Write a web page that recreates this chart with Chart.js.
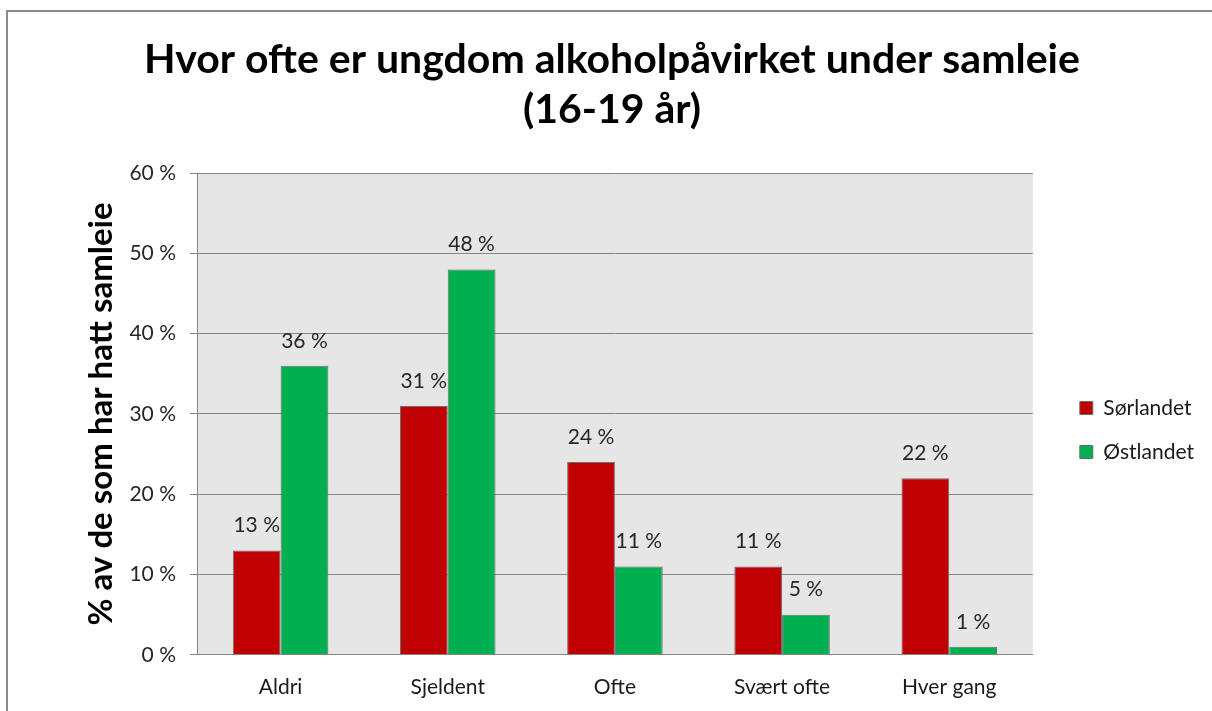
<!DOCTYPE html>
<html>
<head>
<meta charset="utf-8">
<script src="https://cdn.jsdelivr.net/npm/chart.js@4"></script>
<style>
  html, body { margin: 0; padding: 0; background: #ffffff; }
  #wrap { width: 1212px; height: 711px; position: relative; }
</style>
</head>
<body>
<div id="wrap"><canvas id="c" width="1212" height="711"></canvas></div>
<script>
const titleLines = ['Hvor ofte er ungdom alkoholpåvirket under samleie', '(16-19 år)'];
const yAxisTitle = '% av de som har hatt samleie';
const categories = ['Aldri', 'Sjeldent', 'Ofte', 'Svært ofte', 'Hver gang'];
const seriesNames = ['Sørlandet', 'Østlandet'];
const sorlandet = [13, 31, 24, 11, 22];
const ostlandet = [36, 48, 11, 5, 1];
const yTicks = [0, 10, 20, 30, 40, 50, 60];

const FONT = 'Lato, "Open Sans", sans-serif';
const GRID = '#868686';

const bgPlugin = {
  id: 'bg',
  afterLayout(chart) {
    if (chart.titleBlock) {
      chart.titleBlock.left += 10;
      chart.titleBlock.right += 10;
    }
  },
  beforeDraw(chart) {
    const {ctx, chartArea: a} = chart;
    ctx.save();
    ctx.fillStyle = '#ffffff';
    ctx.fillRect(0, 0, chart.width, chart.height);
    ctx.fillStyle = '#e6e6e6';
    ctx.fillRect(a.left, a.top, a.right - a.left, a.bottom - a.top);
    ctx.strokeStyle = '#8a8a8a';
    ctx.lineWidth = 2;
    ctx.strokeRect(7, 11, chart.width + 20, chart.height + 20);
    ctx.restore();
  }
};

const labelPlugin = {
  id: 'vals',
  afterDatasetsDraw(chart) {
    const {ctx} = chart;
    ctx.save();
    ctx.font = '21px ' + FONT;
    ctx.fillStyle = '#262626';
    ctx.textAlign = 'center';
    ctx.textBaseline = 'middle';
    chart.data.datasets.forEach((ds, i) => {
      chart.getDatasetMeta(i).data.forEach((bar, j) => {
        ctx.fillText(ds.data[j] + '\u00a0%', bar.x, bar.y - 25);
      });
    });
    ctx.restore();
  }
};

new Chart(document.getElementById('c'), {
  type: 'bar',
  data: {
    labels: categories,
    datasets: [
      { label: seriesNames[0], data: sorlandet, backgroundColor: '#c00000', borderColor: '#6e6e6e', borderWidth: 1, borderSkipped: 'bottom' },
      { label: seriesNames[1], data: ostlandet, backgroundColor: '#00b050', borderColor: '#6e6e6e', borderWidth: 1, borderSkipped: 'bottom' }
    ]
  },
  options: {
    responsive: false,
    animation: false,
    devicePixelRatio: 1,
    layout: { padding: { left: 0, right: 8, top: 0, bottom: -9 } },
    datasets: { bar: { categoryPercentage: 2 / 3.5, barPercentage: 1 } },
    plugins: {
      tooltip: { enabled: false },
      title: {
        display: true,
        text: titleLines,
        color: '#000000',
        font: { family: FONT, size: 41, weight: 'bold', lineHeight: 1.22 },
        padding: { top: 35, bottom: 38 }
      },
      legend: {
        position: 'right',
        title: { display: true, text: ' ', font: { size: 1, lineHeight: 1 }, padding: { top: 0, bottom: 139 } },
        labels: {
          color: '#1a1a1a',
          font: { family: FONT, size: 21 },
          boxWidth: 13,
          boxHeight: 13,
          padding: 23
        }
      }
    },
    scales: {
      x: {
        grid: { display: false, drawTicks: false },
        border: { display: true, color: GRID, width: 1 },
        ticks: { color: '#1a1a1a', font: { family: FONT, size: 21 }, padding: 20 }
      },
      y: {
        min: 0, max: 60,
        afterBuildTicks(s) { s.ticks = yTicks.map(v => ({ value: v })); },
        afterFit(s) { s.width = 197; },
        grid: { color: GRID, lineWidth: 1, tickLength: 7, drawTicks: true },
        border: { display: true, color: GRID, width: 1 },
        ticks: {
          color: '#262626',
          font: { family: FONT, size: 21 },
          padding: 14,
          callback: v => v + '\u00a0%'
        },
        title: {
          display: true,
          text: yAxisTitle,
          color: '#000000',
          font: { family: FONT, size: 33, weight: 'bold', lineHeight: 1.2 },
          padding: { top: 82, bottom: 0 }
        }
      },
      gap: {
        position: 'right',
        display: true,
        grid: { display: false, drawTicks: false },
        border: { display: false },
        ticks: { display: false },
        afterFit(s) { s.width = 24; }
      }
    }
  },
  plugins: [bgPlugin, labelPlugin]
});
</script>
</body>
</html>
